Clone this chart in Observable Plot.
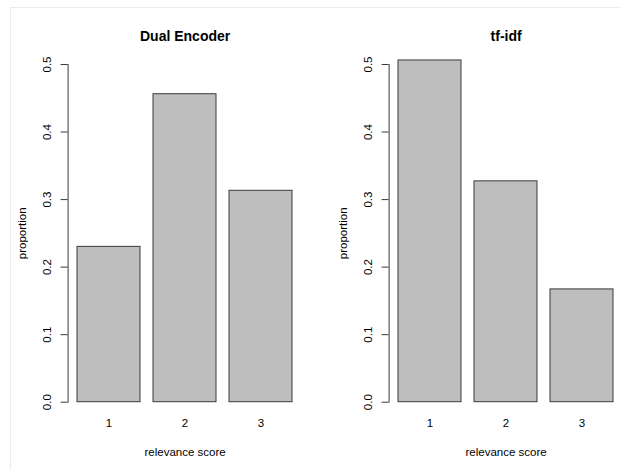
<!DOCTYPE html>
<html>
<head>
<meta charset="utf-8">
<script src="https://cdn.jsdelivr.net/npm/d3@7"></script>
<script src="https://cdn.jsdelivr.net/npm/@observablehq/plot@0.6"></script>
<style>
  html, body { margin: 0; padding: 0; background: #fff; }
  body { width: 621px; height: 470px; overflow: hidden; position: relative; font-family: "Liberation Sans", Arial, Helvetica, sans-serif; }
  #frame { position: absolute; left: 10px; top: 7px; width: 700px; height: 500px; border-left: 1px solid #ececec; border-top: 1px solid #ececec; }
  .panel { position: absolute; top: 7px; width: 321px; height: 463px; }
  .panel svg { max-width: none !important; }
</style>
</head>
<body>
<div id="frame"></div>
<div id="p1" class="panel" style="left:10px"></div>
<div id="p2" class="panel" style="left:331px"></div>
<script>
const scores = [1, 2, 3];
const dualEncoder = [0.23, 0.456, 0.313];
const tfidf = [0.506, 0.327, 0.167];
const yTicks = [0, 0.1, 0.2, 0.3, 0.4, 0.5];
const panelTitles = ["Dual Encoder", "tf-idf"];
const xTitle = "relevance score";
const yTitle = "proportion";

function panel(title, values) {
  const data = scores.map((s, i) => ({score: s, prop: values[i]}));
  return Plot.plot({
    width: 321,
    height: 463,
    marginLeft: 57.6,
    marginRight: 29.4,
    marginTop: 57,
    marginBottom: 68.3,
    style: {fontFamily: '"Liberation Sans", Arial, Helvetica, sans-serif', fontSize: "11.5px", background: "transparent", color: "black", overflow: "visible", maxWidth: "none"},
    x: {domain: scores, range: [66.5, 283.2], paddingInner: 1 / 6, paddingOuter: 0},
    y: {domain: [0, 0.5]},
    marks: [
      Plot.barY(data, {x: "score", y: "prop", fill: "#bebebe", stroke: "#3a3a3a", strokeWidth: 1}),
      Plot.frame({anchor: "left", stroke: "#3a3a3a"}),
      Plot.axisY({ticks: yTicks, tickSize: 7, tickPadding: 10, tickRotate: -90, tickFormat: d3.format(".1f"), label: null, stroke: "#3a3a3a", fill: "black", strokeOpacity: 1}),
      Plot.axisX({tickSize: 0, tickPadding: 17, label: null, fill: "black"}),
      Plot.text([title], {frameAnchor: "top", dy: -28, fontSize: 14, fontWeight: "bold", lineAnchor: "middle", textAnchor: "middle", fill: "black"}),
      Plot.text([xTitle], {frameAnchor: "bottom", dy: 50, lineAnchor: "middle", textAnchor: "middle", fill: "black"}),
      Plot.text([yTitle], {frameAnchor: "left", dx: -45.6, rotate: -90, lineAnchor: "middle", textAnchor: "middle", fill: "black"})
    ]
  });
}

document.getElementById("p1").appendChild(panel(panelTitles[0], dualEncoder));
document.getElementById("p2").appendChild(panel(panelTitles[1], tfidf));
</script>
</body>
</html>
